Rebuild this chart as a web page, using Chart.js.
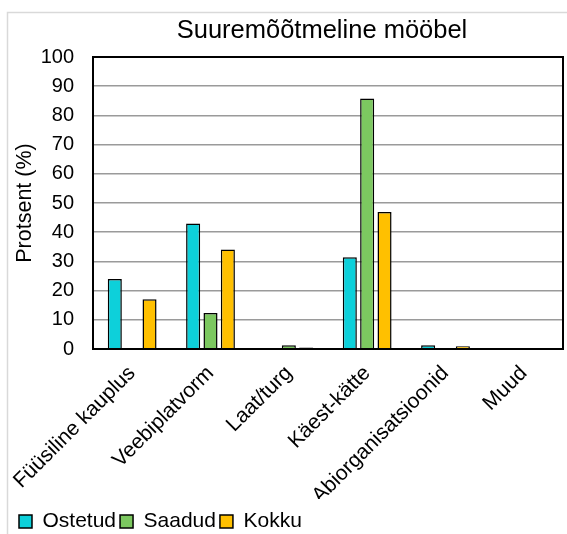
<!DOCTYPE html>
<html>
<head>
<meta charset="utf-8">
<script src="https://cdn.jsdelivr.net/npm/chart.js@4"></script>
<style>
  html, body { margin: 0; padding: 0; background: #fff; }
  #wrap { width: 567px; height: 534px; }
</style>
</head>
<body>
<div id="wrap"><canvas id="c" width="567" height="534"></canvas></div>
<script>
const categories = ['Füüsiline kauplus', 'Veebiplatvorm', 'Laat/turg', 'Käest-kätte', 'Abiorganisatsioonid', 'Muud'];
const ostetud = [24, 43, 0, 31.4, 1.3, 0];
const saadud = [0, 12.3, 1.3, 85.8, 0, 0];
const kokku = [17, 34.1, 0.5, 46.9, 0.9, 0];

const FONT = '"Liberation Sans", Arial, sans-serif';

// outer frame, plot border, title / legend nudges
const framePlugin = {
    id: 'frame',
    afterLayout(chart) {
        chart.titleBlock.left = chart.chartArea.left - 12;
        chart.titleBlock.right = chart.chartArea.right;
        chart.legend.left += 7;
        chart.legend.right += 7;
        chart.legend.top += 8;
        chart.legend.bottom += 8;
    },
    beforeDraw(chart) {
        const ctx = chart.ctx;
        ctx.save();
        ctx.strokeStyle = '#d9d9d9';
        ctx.lineWidth = 1.5;
        ctx.beginPath();
        ctx.moveTo(7.5, chart.height);
        ctx.lineTo(7.5, 12.5);
        ctx.lineTo(chart.width, 12.5);
        ctx.stroke();
        ctx.restore();
    },
    afterDatasetsDraw(chart) {
        const a = chart.chartArea;
        const ctx = chart.ctx;
        ctx.save();
        ctx.strokeStyle = '#000';
        ctx.lineWidth = 2;
        ctx.strokeRect(a.left, a.top, a.right - a.left, a.bottom - a.top);
        ctx.restore();
    }
};

const barOpts = { borderColor: '#000', borderWidth: 1.5, barPercentage: 0.81, categoryPercentage: 0.665 };

new Chart(document.getElementById('c'), {
    type: 'bar',
    data: {
        labels: categories,
        datasets: [
            { label: 'Ostetud', data: ostetud, backgroundColor: '#0dd0da', ...barOpts },
            { label: 'Saadud', data: saadud, backgroundColor: '#7cc860', ...barOpts },
            { label: 'Kokku', data: kokku, backgroundColor: '#ffc000', ...barOpts }
        ]
    },
    options: {
        responsive: false,
        animation: false,
        layout: { padding: { left: 8, right: 4, top: 0, bottom: 0 } },
        plugins: {
            title: {
                display: true,
                text: 'Suuremõõtmeline mööbel',
                color: '#000',
                font: { family: FONT, size: 25.5, weight: 'normal' },
                padding: { top: 16, bottom: 10.4 }
            },
            legend: {
                position: 'bottom',
                align: 'start',
                labels: {
                    color: '#000',
                    font: { family: FONT, size: 21 },
                    boxWidth: 13,
                    boxHeight: 13,
                    padding: 4
                }
            },
            tooltip: { enabled: false }
        },
        scales: {
            x: {
                grid: { display: false },
                border: { display: true, color: '#000', width: 2 },
                ticks: {
                    color: '#000',
                    font: { family: FONT, size: 21 },
                    minRotation: 45,
                    maxRotation: 45,
                    padding: 4
                },
                afterFit(s) { s.height = s.chart.height - s.chart.legend.height - 349; }
            },
            y: {
                min: 0,
                max: 100,
                grid: { color: '#9a9a9a', lineWidth: 1.5, drawTicks: false },
                border: { display: true, color: '#000', width: 2 },
                ticks: {
                    stepSize: 10,
                    color: '#000',
                    font: { family: FONT, size: 20 },
                    padding: 19
                },
                title: {
                    display: true,
                    text: 'Protsent (%)',
                    color: '#000',
                    font: { family: FONT, size: 21.5 },
                    padding: { top: 4, bottom: 0 }
                },
                afterFit(s) { s.width = 85; }
            }
        }
    },
    plugins: [framePlugin]
});
</script>
</body>
</html>
